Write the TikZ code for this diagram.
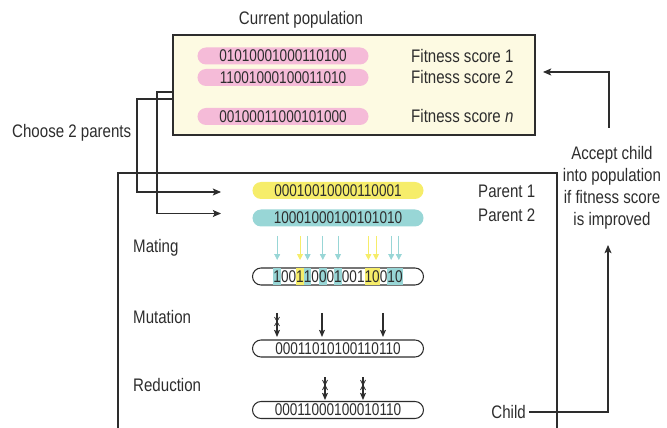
\documentclass[tikz,border=0pt]{standalone}
\usepackage{fontspec}
\setmainfont{Liberation Sans}[FakeStretch=0.83]
\newfontfamily\bitsfont{Liberation Sans}[FakeStretch=0.8]
\usetikzlibrary{calc, arrows.meta, positioning}

\definecolor{popfill}{RGB}{253,250,226}
\definecolor{pinkbit}{RGB}{245,187,216}
\definecolor{yellowbit}{RGB}{246,237,106}
\definecolor{tealbit}{RGB}{152,214,214}
\definecolor{ink}{RGB}{45,45,45}

\begin{document}
\begin{tikzpicture}[x=.03cm, y=-.03cm,
    txt/.style={font=\fontsize{15.5}{18.8}\selectfont, text=ink, inner sep=0pt},
    pill/.style={rounded corners=.255cm, minimum width=5.13cm, minimum height=.51cm,
      inner sep=0pt, font=\bitsfont\fontsize{14.5}{15}\selectfont, text=ink},
    link/.style={draw=ink, line width=.9pt, -{Stealth[length=7pt, width=6pt, inset=1.5pt]}},
    mate/.style={line width=.6pt, -{Triangle[length=5pt, width=5pt]}},
    down/.style={draw=ink, line width=.9pt, -{Stealth[length=6pt, width=5pt, inset=1pt]}}]
  \useasboundingbox (0,0) rectangle (667,428);

  % current population
  \node[txt] (curpop) at (301,20) {Current population};
  \node[draw=ink, line width=1.1pt, fill=popfill, minimum width=10.86cm, minimum height=3cm,
    inner sep=0pt] (pop) at (354,85) {};
  \node[pill, fill=pinkbit] (ind1) at (283,56) {01010001000110100};
  \node[pill, fill=pinkbit] (ind2) at (283,77.5) {11001000100011010};
  \node[pill, fill=pinkbit] (indn) at (283,116.5) {00100011000101000};
  \node[txt, anchor=west] (fit1) at (411,56) {Fitness score 1};
  \node[txt, anchor=west] (fit2) at (411,77.5) {Fitness score 2};
  \node[txt, anchor=west] (fitn) at (411,116.5) {Fitness score \textit{n}};

  % choosing parents
  \node[txt, anchor=west] (choose) at (12,133) {Choose 2 parents};
  \draw[ink, line width=1.1pt] (118,430) -- (118,173) -- (557,173) -- (557,430);
  \coordinate (out1) at (173,99);
  \coordinate (out2) at (173,92);
  \coordinate (in1) at (221,192);
  \coordinate (in2) at (221,213.5);
  \draw[link] (out1) -- (137,99) |- (in1);
  \draw[link] (out2) -- (157,92) |- (in2);

  \node[pill, fill=yellowbit] (par1) at (338,190.5) {00010010000110001};
  \node[pill, fill=tealbit] (par2) at (338,218) {10001000100101010};
  \node[txt, anchor=west] (par1lbl) at (478,191.5) {Parent 1};
  \node[txt, anchor=west] (par2lbl) at (478,215.5) {Parent 2};

  % mating
  \node[txt, anchor=west] (mating) at (133,248) {Mating};
  \foreach \i/\c in {0/tealbit, 3/yellowbit, 4/tealbit, 6/tealbit, 8/tealbit,
      12/yellowbit, 13/yellowbit, 15/tealbit, 16/tealbit}
    \draw[mate, \c] ({277.2+7.6*\i},236) -- ({277.2+7.6*\i},260);
  \node[pill, draw=ink, line width=.9pt, fill=white] (child) at (338,276.5) {};
  \foreach \b/\c [count=\i from 0] in {1/tealbit, 0/none, 0/none, 1/yellowbit, 1/tealbit,
      0/none, 0/tealbit, 0/none, 1/tealbit, 0/none, 0/none, 1/none, 1/yellowbit,
      0/yellowbit, 0/none, 1/tealbit, 0/tealbit}
    \node[fill=\c, minimum width=.232cm, minimum height=.49cm, inner sep=0pt,
      font=\bitsfont\fontsize{14.5}{15}\selectfont, text=ink] (bit\i) at ({277.2+7.6*\i},276.5) {\b};

  % mutation
  \node[txt, anchor=west] (mutation) at (133,317) {Mutation};
  \foreach \x in {277,322,383}
    \draw[down] (\x,313) -- (\x,337);
  \draw[ink, line width=.6pt] (274.5,317) -- (279.5,326) (279.5,317) -- (274.5,326);
  \node[pill, draw=ink, line width=.9pt, fill=white] (mutant) at (338,348.5) {00011010100110110};

  % reduction
  \node[txt, anchor=west] (reduction) at (133,385) {Reduction};
  \foreach \x in {325,363} {
    \draw[down] (\x,377) -- (\x,400);
    \draw[ink, line width=.6pt] (\x-2.5,380) -- (\x+2.5,390) (\x+2.5,380) -- (\x-2.5,390);
  }
  \node[pill, draw=ink, line width=.9pt, fill=white] (reduced) at (338,410) {00011000100010110};

  % accepting the child
  \node[txt, anchor=east] (childlbl) at (526,412) {Child};
  \node[txt, align=center] (accept) at (612,188) {Accept child\\into population\\if fitness score\\is improved};
  \coordinate (acc) at (608,245);
  \coordinate (ret) at (609,128);
  \coordinate (popin) at (543,72);
  \draw[link] ([xshift=.09cm]childlbl.east) -| (acc);
  \draw[link] (ret) |- (popin);
\end{tikzpicture}
\end{document}
